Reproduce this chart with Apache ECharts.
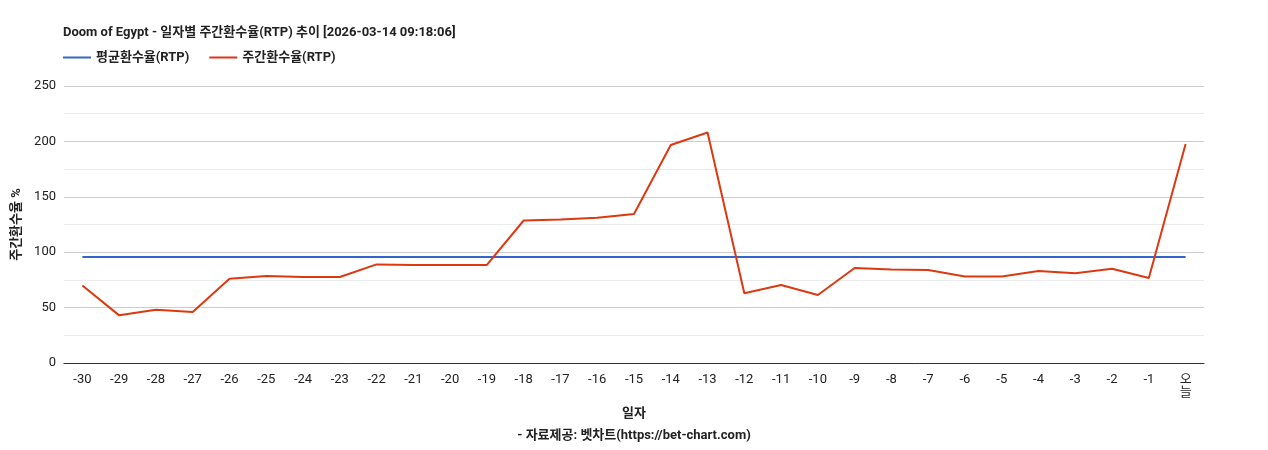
<!DOCTYPE html>
<html>
<head>
<meta charset="utf-8">
<script src="https://cdn.jsdelivr.net/npm/echarts@6/dist/echarts.min.js"></script>
<style>body{margin:0}#chart{width:1268px;height:450px}</style>
</head>
<body>
<div id="chart"></div>
<script>
var days = ['-30','-29','-28','-27','-26','-25','-24','-23','-22','-21','-20','-19','-18','-17','-16','-15','-14','-13','-12','-11','-10','-9','-8','-7','-6','-5','-4','-3','-2','-1','오늘'];
var weeklyRtp = [70,43,48,46,76,78.5,77.6,77.6,89,88.5,88.5,88.5,128.6,129.5,131,134.5,196.8,208,63,70.4,61.4,85.7,84.4,84,78,78,83,81,85,76.7,197.6];
var avgRtp = 95.7;
var avgLine = days.map(function () { return avgRtp; });

var chart = echarts.init(document.getElementById('chart'));
var font = 'Roboto, "Noto Sans CJK KR", sans-serif';
chart.setOption({
	textStyle: { fontFamily: font },
	title: {
		text: 'Doom of Egypt - 일자별 주간환수율(RTP) 추이 [2026-03-14 09:18:06]',
		left: 58, top: 21,
		textStyle: { fontSize: 13, fontWeight: 'bold', color: '#222', fontFamily: font }
	},
	legend: {
		left: 58, top: 46, itemWidth: 28, itemHeight: 2, itemGap: 20,
		icon: 'rect',
		textStyle: { fontSize: 13, fontWeight: 'bold', color: '#222' },
		data: ['평균환수율(RTP)', '주간환수율(RTP)']
	},
	grid: { left: 64, right: 64, top: 86, bottom: 87, containLabel: false },
	xAxis: {
		type: 'category', data: days,
		name: '일자', nameLocation: 'middle', nameGap: 44,
		nameTextStyle: { fontSize: 13, fontWeight: 'bold', color: '#222' },
		axisLine: { lineStyle: { color: '#333' } },
		axisTick: { show: false },
		axisLabel: { interval: 0, fontSize: 13, color: '#222', margin: 10,
			formatter: function (v) { return v === '오늘' ? '오\n늘' : v; } }
	},
	yAxis: {
		type: 'value', min: 0, max: 250, interval: 50,
		name: '주간환수율 %', nameLocation: 'middle', nameGap: 30, nameRotate: 90,
		nameTextStyle: { fontSize: 13, fontWeight: 'bold', color: '#222' },
		axisLabel: { fontSize: 13, color: '#222' },
		splitLine: { lineStyle: { color: '#ccc' } },
		minorTick: { show: false, splitNumber: 2 },
		minorSplitLine: { show: true, lineStyle: { color: '#ebebeb' } }
	},
	series: [
		{ name: '평균환수율(RTP)', type: 'line', data: avgLine, symbol: 'none',
			lineStyle: { color: '#3366cc', width: 2 }, itemStyle: { color: '#3366cc' } },
		{ name: '주간환수율(RTP)', type: 'line', data: weeklyRtp, symbol: 'none',
			lineStyle: { color: '#dc3912', width: 2 }, itemStyle: { color: '#dc3912' } }
	],
	graphic: [{
		type: 'text', left: 'center', top: 429,
		style: { text: '- 자료제공: 벳차트(https://bet-chart.com)', font: 'bold 13px ' + font, fill: '#222' }
	}]
});
</script>
</body>
</html>
